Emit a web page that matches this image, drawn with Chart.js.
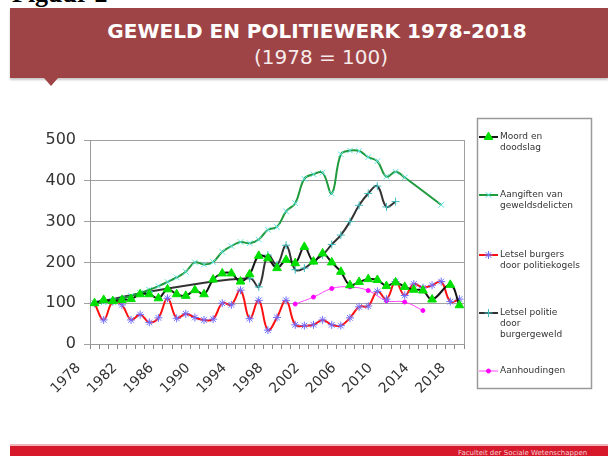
<!DOCTYPE html>
<html><head><meta charset="utf-8">
<script src="https://cdn.jsdelivr.net/npm/chart.js@4.4.1/dist/chart.umd.min.js"></script>
<style>
html,body{margin:0;padding:0;background:#fff;}
#wrap{position:relative;width:608px;height:456px;overflow:hidden;background:#fff;}
#fig{position:absolute;left:12px;top:-19px;font:bold 26px "Liberation Serif",serif;color:#000;line-height:26px;white-space:nowrap;}
#banner{position:absolute;left:10px;top:8px;width:598px;height:70px;background:#9f4446;box-shadow:0 2px 2px rgba(0,0,0,0.22);}
#tri{position:absolute;left:44px;top:78px;width:0;height:0;border-left:7px solid transparent;border-right:7px solid transparent;border-top:8px solid #9f4446;}
#t1{position:absolute;left:0;top:21px;width:634px;text-align:center;font:bold 20px "DejaVu Sans",sans-serif;line-height:20px;color:#fff;white-space:nowrap;}
#t2{position:absolute;left:0;top:47px;width:642px;text-align:center;font:20px "DejaVu Sans",sans-serif;line-height:20px;color:#f6ecec;white-space:nowrap;}
#footline{position:absolute;left:10px;top:444px;width:598px;height:2px;background:#eeb4ba;}
#foot{position:absolute;left:10px;top:446px;width:598px;height:10px;background:#d7182a;}
#foottxt{position:absolute;left:458px;top:449px;font:7px "DejaVu Sans",sans-serif;line-height:8px;color:#f3d0d4;white-space:nowrap;}
canvas{position:absolute;left:0;top:0;}
</style></head>
<body>
<div id="wrap">
<div id="fig">Figuur 2</div>
<div id="banner"></div>
<div id="tri"></div>
<div id="t1">GEWELD EN POLITIEWERK 1978-2018</div>
<div id="t2">(1978 = 100)</div>
<div id="footline"></div>
<div id="foot"></div>
<div id="foottxt">Faculteit der Sociale Wetenschappen</div>
<canvas id="c" width="608" height="456"></canvas>
</div>
<script>
const years = ['1978','1979','1980','1981','1982','1983','1984','1985','1986','1987',
  '1988','1989','1990','1991','1992','1993','1994','1995','1996','1997',
  '1998','1999','2000','2001','2002','2003','2004','2005','2006','2007',
  '2008','2009','2010','2011','2012','2013','2014','2015','2016','2017','2018'];

const seriesNames = [
  ['Moord en','doodslag'],
  ['Aangiften van','geweldsdelicten'],
  ['Letsel burgers','door politiekogels'],
  ['Letsel politie','door','burgergeweld'],
  ['Aanhoudingen']
];

const moord = [100,108,105,108,110,122,122,112,134,122,
  118,132,122,158,173,173,153,171,216,210,
  186,206,198,238,202,222,200,177,144,152,
  159,157,142,151,140,133,131,109,null,145,
  95];

const aangiften = [100,102,106,111,118,125,133,142,152,163,
  177,200,195,201,226,240,250,247,256,280,
  287,325,345,405,416,420,369,465,474,473,
  458,448,410,422,408,null,null,null,341,null,
  null];

const burgers = [100,59,104,96,59,72,53,64,112,63,
  74,65,59,61,100,96,132,62,107,34,
  65,107,47,45,47,59,47,45,64,91,
  93,129,110,153,119,147,138,144,153,104,
  110];

const politie = [100,null,null,null,null,null,128,null,null,null,
  null,null,null,null,null,null,null,161,140,218,
  194,242,182,186,203,218,244,267,300,340,
  369,387,336,349,null,null,null,null,null,null,
  null];

const aanhoudingen = [null,null,null,null,null,null,null,null,null,null,
  null,null,null,null,null,null,null,null,null,null,
  null,null,98,null,115,null,136,null,140,null,
  131,null,106,null,103,null,82,null,null,null,
  null];

const yTicks = {min:0, max:500, step:50};

const legendY = [137,195,255,313,371];

const sideLegend = {
  id:'sideLegend',
  afterDraw(chart){
    const ctx = chart.ctx;
    ctx.save();
    ctx.strokeStyle = '#9a9a9a'; ctx.lineWidth = 1.5;
    ctx.strokeRect(477.5,118.5,114,270);
    chart.data.datasets.forEach((ds,i)=>{
      const y = legendY[i];
      ctx.strokeStyle = ds.borderColor; ctx.lineWidth = ds.borderWidth;
      ctx.beginPath(); ctx.moveTo(479,y); ctx.lineTo(498,y); ctx.stroke();
      ctx.fillStyle = ds.pointBackgroundColor; ctx.strokeStyle = ds.pointBorderColor; ctx.lineWidth = ds.pointBorderWidth;
      Chart.helpers.drawPoint(ctx,{pointStyle:ds.pointStyle,radius:ds.pointRadius,rotation:0,borderWidth:ds.pointBorderWidth},488.5,y);
      ctx.fillStyle = '#333'; ctx.font = '9px "DejaVu Sans"'; ctx.textBaseline = 'middle'; ctx.textAlign='left';
      seriesNames[i].forEach((t,j)=>ctx.fillText(t,500,y+j*11));
    });
    ctx.restore();
  }
};

const rightBorder = {
  id:'rightBorder',
  beforeDatasetsDraw(chart){
    const {ctx, chartArea:a} = chart;
    ctx.save();
    ctx.strokeStyle = '#a0a0a0'; ctx.lineWidth = 1;
    ctx.beginPath(); ctx.moveTo(Math.round(a.right)+0.5,a.top); ctx.lineTo(Math.round(a.right)+0.5,a.bottom); ctx.stroke();
    ctx.restore();
  }
};

function ds(name, data, line, lw, pStyle, pColor, pRadius, pBw){
  return {label:name.join(' '), data, borderColor:line, borderWidth:lw, backgroundColor:line,
    pointStyle:pStyle, pointBackgroundColor:pColor, pointBorderColor:pColor, pointRadius:pRadius,
    pointBorderWidth:pBw, tension:0.4, spanGaps:true, fill:false};
}

new Chart(document.getElementById('c'),{
  type:'line',
  data:{
    labels: years,
    datasets:[
      ds(seriesNames[0], moord, '#151515', 2, 'triangle', '#00e000', 5, 1),
      ds(seriesNames[1], aangiften, '#1f9a3c', 2, 'crossRot', '#5fe3e3', 4, 1),
      ds(seriesNames[2], burgers, '#ff1010', 2, 'star', '#6f6fff', 4, 1),
      ds(seriesNames[3], politie, '#333333', 2, 'cross', '#3fbcbc', 4, 1),
      ds(seriesNames[4], aanhoudingen, '#ff44ff', 1, 'circle', '#ff00ff', 2, 1)
    ]
  },
  options:{
    responsive:false, animation:false, devicePixelRatio:1,
    layout:{padding:{left:40,right:144,top:140,bottom:52}},
    plugins:{legend:{display:false},tooltip:{enabled:false}},
    scales:{
      x:{
        offset:true,
        grid:{display:true,drawOnChartArea:false,drawTicks:true,tickLength:5,color:'#8a8a8a',offset:true},
        border:{display:true,color:'#9a9a9a',width:1},
        ticks:{autoSkip:false,maxRotation:45,minRotation:45,padding:11,labelOffset:-16,color:'#333',
          font:{family:'DejaVu Sans',size:14},
          callback:(v,i)=> i%4===0 ? years[i] : ''},
        afterFit:s=>{s.height=60;}
      },
      y:{
        min:yTicks.min,max:yTicks.max,
        ticks:{stepSize:yTicks.step,color:'#333',font:{family:'DejaVu Sans',size:16},padding:8},
        grid:{color:'#a0a0a0',lineWidth:1,tickLength:6,drawTicks:true},
        border:{display:true,color:'#9a9a9a'},
        afterFit:s=>{s.width=50;}
      }
    }
  },
  plugins:[rightBorder, sideLegend]
});
</script>
</body></html>
